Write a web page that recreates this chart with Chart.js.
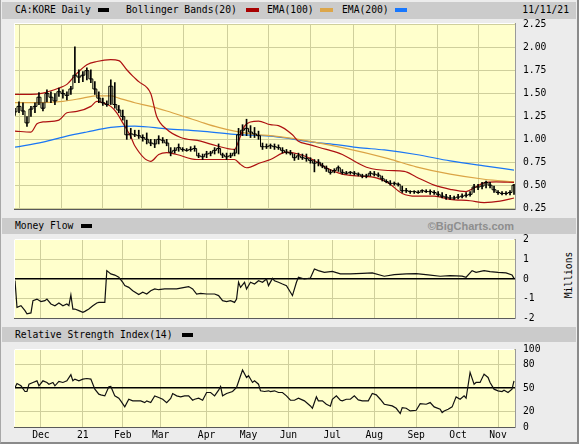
<!DOCTYPE html>
<html>
<head>
<meta charset="utf-8">
<script src="https://cdn.jsdelivr.net/npm/chart.js@4.4.1/dist/chart.umd.min.js"></script>
<style>
  body { margin: 0; background: #fff; }
  #page {
    position: relative; width: 579px; height: 444px; box-sizing: border-box;
    background: #ececec; overflow: hidden;
    border-left: 1px solid #a8a8a8; border-right: 2px solid #8a8a8a; border-bottom: 2px solid #8a8a8a;
    font-family: "DejaVu Sans Mono", monospace; font-size: 9.7px; color: #000;
  }
  .bar { position: absolute; left: 1px; width: 574px; background: #cbcbcb; }
  .t { position: absolute; white-space: pre; line-height: 10px; }
  .sw { position: absolute; height: 4px; }
  canvas { position: absolute; }
  #brand { font-family: "Liberation Sans", Arial, sans-serif; font-weight: bold; font-size: 11px; color: #8e8e8e; }
  #millions { left: 544px; top: 270px; width: 47px; text-align: center; transform: rotate(-90deg); }
</style>
</head>
<body>
<div id="page">
  <div class="bar" style="top:2px;height:17px"></div>
  <span class="t" style="left:14px;top:5px">CA:KORE Daily</span>
  <div class="sw" style="left:97px;top:8px;width:11px;background:#000"></div>
  <span class="t" style="left:125px;top:5px">Bollinger Bands(20)</span>
  <div class="sw" style="left:245px;top:8px;width:13px;background:#a80000"></div>
  <span class="t" style="left:266px;top:5px">EMA(100)</span>
  <div class="sw" style="left:319px;top:8px;width:13px;background:#dca64a"></div>
  <span class="t" style="left:341px;top:5px">EMA(200)</span>
  <div class="sw" style="left:394px;top:8px;width:12px;background:#1777ff"></div>
  <span class="t" style="right:8px;top:5px">11/11/21</span>

  <div class="bar" style="top:218px;height:16px"></div>
  <span class="t" style="left:14px;top:221px">Money Flow</span>
  <div class="sw" style="left:80px;top:224px;width:11px;background:#000"></div>
  <span class="t" id="brand" style="right:63px;top:220px;line-height:12px">©BigCharts.com</span>
  <span class="t" id="millions">Millions</span>

  <div class="bar" style="top:327px;height:15px"></div>
  <span class="t" style="left:14px;top:330px">Relative Strength Index(14)</span>
  <div class="sw" style="left:181px;top:333px;width:11px;background:#000"></div>

  <canvas id="priceChart" width="551" height="218" style="left:13px;top:7px"></canvas>
  <canvas id="flowChart" width="551" height="111" style="left:13px;top:223px"></canvas>
  <canvas id="rsiChart" width="551" height="110" style="left:13px;top:333px"></canvas>
</div>

<script>
"use strict";

// x axis is the trading-day index, 12 Nov 2020 = 0 ... 11 Nov 2021 = 250
const monthDays = [13, 34, 54, 73, 96, 117, 137, 159, 180, 201, 222, 242];
const monthLabels = ["Dec", "21", "Feb", "Mar", "Apr", "May", "Jun", "Jul", "Aug", "Sep", "Oct", "Nov"];

// price bars, one every second trading day
const priceHigh = [
  1.34, 1.41, 1.40, 1.25, 1.36, 1.40, 1.51, 1.40, 1.54, 1.52,
  1.50, 1.56, 1.54, 1.52, 1.58, 2.01, 1.76, 1.74, 1.78, 1.76,
  1.63, 1.52, 1.45, 1.42, 1.65, 1.62, 1.37, 1.32, 1.21, 1.12,
  1.10, 1.10, 1.05, 1.07, 1.00, 1.00, 1.04, 1.02, 1.00, 0.91,
  0.91, 0.95, 0.91, 0.90, 0.92, 0.93, 0.85, 0.84, 0.87, 0.87,
  0.91, 0.95, 0.85, 0.85, 0.85, 0.89, 1.12, 1.16, 1.22, 1.15,
  1.13, 1.09, 0.96, 0.95, 0.95, 0.95, 0.94, 0.91, 0.89, 0.88,
  0.84, 0.85, 0.84, 0.84, 0.80, 0.78, 0.78, 0.74, 0.71, 0.67,
  0.68, 0.71, 0.67, 0.65, 0.65, 0.65, 0.635, 0.62, 0.62, 0.65,
  0.65, 0.635, 0.60, 0.56, 0.55, 0.535, 0.525, 0.49, 0.465, 0.44,
  0.44, 0.44, 0.45, 0.45, 0.45, 0.44, 0.43, 0.42, 0.40, 0.39,
  0.38, 0.40, 0.405, 0.42, 0.43, 0.51, 0.51, 0.53, 0.545, 0.53,
  0.49, 0.44, 0.43, 0.43, 0.44, 0.51,
];
const priceLow = [
  1.26, 1.29, 1.27, 1.14, 1.25, 1.29, 1.38, 1.31, 1.41, 1.40,
  1.38, 1.47, 1.45, 1.43, 1.49, 1.62, 1.62, 1.63, 1.65, 1.62,
  1.49, 1.40, 1.37, 1.36, 1.38, 1.34, 1.29, 1.21, 1.00, 1.01,
  1.03, 1.01, 0.98, 0.95, 0.93, 0.91, 0.95, 0.96, 0.93, 0.82,
  0.85, 0.87, 0.87, 0.87, 0.87, 0.87, 0.80, 0.78, 0.80, 0.82,
  0.84, 0.85, 0.80, 0.78, 0.80, 0.82, 0.84, 1.04, 1.04, 1.02,
  1.02, 1.00, 0.89, 0.90, 0.90, 0.89, 0.89, 0.85, 0.84, 0.83,
  0.77, 0.78, 0.78, 0.76, 0.74, 0.645, 0.71, 0.69, 0.65, 0.62,
  0.635, 0.65, 0.62, 0.62, 0.62, 0.61, 0.60, 0.58, 0.58, 0.60,
  0.60, 0.59, 0.545, 0.526, 0.50, 0.50, 0.49, 0.42, 0.42, 0.41,
  0.41, 0.41, 0.42, 0.42, 0.40, 0.40, 0.38, 0.36, 0.345, 0.345,
  0.345, 0.35, 0.36, 0.37, 0.38, 0.42, 0.45, 0.46, 0.47, 0.47,
  0.42, 0.40, 0.395, 0.395, 0.395, 0.40,
];
const priceClose = [
  1.30, 1.36, 1.31, 1.18, 1.33, 1.36, 1.46, 1.34, 1.50, 1.46,
  1.42, 1.52, 1.50, 1.48, 1.55, 1.70, 1.68, 1.70, 1.75, 1.66,
  1.55, 1.45, 1.40, 1.38, 1.58, 1.38, 1.32, 1.25, 1.05, 1.06,
  1.05, 1.04, 1.02, 1.00, 0.96, 0.95, 1.00, 0.99, 0.96, 0.86,
  0.88, 0.91, 0.89, 0.88, 0.89, 0.90, 0.82, 0.81, 0.84, 0.85,
  0.88, 0.90, 0.83, 0.81, 0.82, 0.85, 1.05, 1.10, 1.12, 1.08,
  1.06, 1.04, 0.92, 0.92, 0.93, 0.92, 0.91, 0.88, 0.86, 0.85,
  0.80, 0.82, 0.80, 0.79, 0.77, 0.74, 0.75, 0.71, 0.68, 0.64,
  0.66, 0.69, 0.64, 0.63, 0.64, 0.63, 0.62, 0.60, 0.60, 0.63,
  0.62, 0.61, 0.57, 0.54, 0.52, 0.52, 0.51, 0.44, 0.44, 0.43,
  0.43, 0.42, 0.44, 0.43, 0.43, 0.42, 0.40, 0.38, 0.37, 0.36,
  0.36, 0.37, 0.38, 0.39, 0.40, 0.48, 0.48, 0.49, 0.53, 0.50,
  0.45, 0.42, 0.41, 0.41, 0.42, 0.50,
];

// bollinger bands (20)
const upperDays = [0, 8, 14, 22, 26, 31, 36, 41, 48, 52, 56, 59, 62, 68, 71, 76, 83, 93, 101, 110,
  112, 115, 118, 122, 128, 132, 139, 142, 147, 156, 164, 171, 177, 187, 195, 201, 210, 218, 226, 230,
  235, 241, 250];
const upperBand = [1.49, 1.49, 1.505, 1.56, 1.60, 1.72, 1.815, 1.85, 1.87, 1.86, 1.76, 1.69, 1.63, 1.50, 1.25, 1.11, 1.02, 0.98, 0.93, 0.89,
  0.98, 1.145, 1.19, 1.20, 1.16, 1.15, 1.05, 0.98, 0.945, 0.89, 0.835, 0.75, 0.69, 0.66, 0.65, 0.59, 0.50, 0.455, 0.43, 0.47,
  0.525, 0.535, 0.53];
const lowerDays = [0, 8, 11, 14, 22, 26, 31, 38, 41, 44, 48, 51, 54, 58, 60, 68, 72, 76, 81, 91,
  100, 110, 113, 116, 123, 128, 136, 142, 149, 156, 164, 172, 181, 187, 194, 201, 210, 218, 228, 235,
  243, 250];
const lowerBand = [1.09, 1.08, 1.17, 1.19, 1.21, 1.29, 1.305, 1.36, 1.415, 1.40, 1.36, 1.29, 1.18, 1.03, 0.93, 0.76, 0.835, 0.855, 0.835, 0.78,
  0.78, 0.78, 0.727, 0.69, 0.745, 0.78, 0.86, 0.84, 0.78, 0.69, 0.62, 0.60, 0.58, 0.525, 0.41, 0.38, 0.38, 0.345, 0.33, 0.31,
  0.325, 0.36];

// moving averages
const ema100Days = [0, 12, 24, 34, 41, 48, 52, 60, 68, 76, 86, 93, 102, 110, 120, 128, 136, 142, 164, 187, 201, 218, 235, 250];
const ema100 = [1.40, 1.40, 1.415, 1.45, 1.475, 1.475, 1.45, 1.40, 1.36, 1.31, 1.24, 1.19, 1.13, 1.09, 1.055, 1.04, 1.02, 1.00, 0.91, 0.79, 0.70, 0.62, 0.565, 0.535];
const ema200Days = [0, 14, 25, 36, 48, 60, 76, 93, 110, 128, 137, 149, 162, 172, 185, 201, 218, 235, 250];
const ema200 = [0.915, 0.97, 1.03, 1.08, 1.13, 1.145, 1.115, 1.09, 1.055, 1.035, 1.01, 0.97, 0.94, 0.91, 0.885, 0.835, 0.765, 0.71, 0.665];

// money flow, millions
const flowDays = [0, 1, 3, 5, 6, 8, 9, 11, 13, 15, 16, 18, 20, 22, 24, 26, 27, 28, 29, 30,
  32, 34, 35, 37, 39, 41, 42, 45, 46, 48, 50, 52, 54, 55, 57, 59, 62, 64, 66, 68,
  70, 72, 75, 78, 81, 85, 87, 89, 91, 93, 96, 100, 102, 104, 106, 108, 110, 111, 112, 113,
  115, 116, 118, 120, 122, 124, 126, 127, 129, 130, 132, 134, 136, 138, 139, 141, 142, 145, 148, 150,
  152, 155, 159, 163, 168, 174, 179, 185, 190, 196, 201, 207, 213, 218, 224, 226, 229, 231, 235, 238,
  242, 246, 249, 250];
const moneyFlow = [-0.08, -1.45, -1.37, -1.62, -1.79, -1.74, -1.11, -1.03, -1.16, -1.11, -1.03, -1.28, -1.37, -1.23, -1.37, -1.28, -1.37, -0.82, -1.54, -1.54,
  -1.62, -1.71, -1.66, -1.54, -1.37, -1.23, -1.2, -1.2, 0.43, 0.26, 0.2, 0.09, -0.17, -0.34, -0.43, -0.6, -0.8, -0.68, -0.77, -0.6,
  -0.51, -0.55, -0.51, -0.51, -0.51, -0.43, -0.39, -0.51, -0.77, -0.74, -0.77, -0.77, -0.85, -1.11, -1.16, -1.11, -1.2, -1.03, -0.17, -0.43,
  -0.17, -0.51, -0.17, -0.26, -0.09, -0.17, 0, -0.34, 0.03, -0.09, -0.17, -0.26, -0.34, -0.68, -0.85, -0.17, 0.09, 0, 0.05, 0.51,
  0.43, 0.34, 0.39, 0.26, 0.26, 0.29, 0.31, 0.14, 0.22, 0.26, 0.27, 0.21, 0.14, 0.17, 0.15, 0.09, 0.43, 0.34, 0.43, 0.38,
  0.34, 0.31, 0.21, 0.03];

// relative strength index (14)
const rsiDays = [0, 1, 3, 5, 6, 7, 9, 11, 12, 14, 16, 17, 19, 20, 22, 24, 26, 28, 29, 30,
  32, 34, 36, 38, 40, 42, 43, 45, 47, 48, 50, 52, 53, 55, 57, 59, 61, 63, 65, 66,
  68, 70, 72, 74, 76, 78, 79, 81, 83, 85, 87, 89, 90, 92, 94, 96, 98, 100, 102, 103,
  104, 106, 109, 111, 113, 114, 116, 117, 119, 120, 122, 123, 125, 127, 128, 130, 132, 134, 136, 138,
  140, 142, 145, 148, 149, 151, 152, 154, 156, 158, 159, 161, 163, 164, 166, 168, 170, 172, 174, 177,
  179, 181, 183, 185, 189, 191, 193, 194, 196, 198, 201, 203, 206, 208, 210, 213, 214, 215, 217, 219,
  221, 223, 225, 226, 228, 230, 231, 233, 235, 237, 238, 240, 242, 244, 245, 247, 249, 250];
const rsi = [50.6, 55.8, 52.8, 45.5, 45.5, 54.9, 57.1, 59.2, 52.8, 59.2, 57.1, 54.9, 57.1, 52.8, 58.4, 57.1, 59.2, 67, 59.2, 61.4,
  59.2, 61.4, 62.2, 61.4, 48.5, 42.1, 41.2, 39.9, 51.5, 51.9, 39.9, 36.9, 33.5, 25.8, 35.6, 33.5, 33.5, 33.5, 31.3, 33.5,
  31.3, 39.9, 37.8, 35.6, 31.3, 36.5, 42.9, 39.9, 38.6, 39.9, 39.9, 34.3, 35.6, 36.9, 34.3, 44.2, 44.2, 39.9, 47.2, 51.9,
  39.9, 42.9, 45.5, 50.6, 65.7, 73, 63.5, 65.7, 57.1, 59.2, 54.9, 46.4, 45.5, 46.4, 45.5, 46.4, 44.2, 44.2, 39.9, 34.3,
  34.3, 36.9, 33.5, 27, 24, 38.6, 33.5, 33.5, 29.2, 26.6, 35.6, 39.9, 34.3, 33.5, 35.6, 35.6, 39.9, 34.8, 33.5, 33.5,
  42.9, 41.2, 35.6, 29.2, 27, 24, 17.2, 24.9, 24, 20.6, 21.5, 30, 29.2, 31.3, 25.8, 22.7, 18.5, 20.6, 22.7, 25.8,
  38.6, 35.6, 39.9, 36.9, 70, 54.9, 57.1, 57.1, 67.8, 63.5, 57.1, 48.5, 46.4, 45.5, 47.2, 44.2, 48.5, 59.2];

const priceTicks = [0.25, 0.5, 0.75, 1.0, 1.25, 1.5, 1.75, 2.0, 2.25];
const flowTicks = [-2, -1, 0, 1, 2];
const rsiTicks = [0, 20, 50, 80, 100];

const gridColor = "#cfcf9c";
const paperColor = "#ffffcc";

Chart.defaults.font.family = "'DejaVu Sans Mono', monospace";
Chart.defaults.font.size = 9.7;
Chart.defaults.color = "#000";

const plotPaper = {
  id: "plotPaper",
  beforeDraw(chart) {
    const { ctx, chartArea: a } = chart;
    ctx.save();
    ctx.fillStyle = paperColor;
    ctx.fillRect(a.left, a.top, a.width, a.height);
    ctx.restore();
  },
  afterDraw(chart) {
    // light bevel on the top and left edges
    const { ctx, chartArea: a } = chart;
    ctx.save();
    ctx.strokeStyle = "#ffffff";
    ctx.lineWidth = 1;
    ctx.beginPath();
    ctx.moveTo(a.left + 0.5, a.bottom - 1);
    ctx.lineTo(a.left + 0.5, a.top + 0.5);
    ctx.lineTo(a.right - 1, a.top + 0.5);
    ctx.stroke();
    ctx.restore();
  },
};

function xScale(showLabels) {
  return {
    type: "linear",
    min: -0.5,
    max: 250.5,
    offset: false,
    afterBuildTicks: (s) => {
      s.ticks = monthDays.map((v) => ({ value: v }));
    },
    afterFit: (s) => {
      s.height = showLabels ? 16 : 0;
    },
    grid: { color: gridColor, drawTicks: false },
    border: { color: "#5a5a5a" },
    ticks: {
      display: showLabels,
      padding: 3,
      autoSkip: false,
      maxRotation: 0,
      callback: (v, i) => monthLabels[i],
    },
  };
}

function yScale(min, max, ticks, fmt, baseline) {
  return {
    position: "right",
    min: min,
    max: max,
    afterBuildTicks: (s) => {
      s.ticks = ticks.map((v) => ({ value: v }));
    },
    afterFit: (s) => {
      s.width = 50;
    },
    grid: {
      drawTicks: false,
      color: (c) => (c.tick && c.tick.value === baseline ? "#000" : gridColor),
      lineWidth: (c) => (c.tick && c.tick.value === baseline ? 1.4 : 1),
    },
    border: { color: "#9a9a9a" },
    ticks: { padding: 8, callback: fmt },
  };
}

function lineSet(days, values, color, smooth) {
  return {
    type: "line",
    data: days.map((d, i) => ({ x: d, y: values[i] })),
    borderColor: color,
    borderWidth: 1.2,
    pointRadius: 0,
    cubicInterpolationMode: smooth ? "monotone" : "default",
    tension: 0,
  };
}

// the tick labels need about 14px above and below the plot
function baseOptions(scales, bottomPad) {
  return {
    responsive: false,
    animation: false,
    events: [],
    layout: { padding: { top: 16, bottom: bottomPad, left: 0, right: 0 } },
    plugins: { legend: { display: false }, tooltip: { enabled: false } },
    scales: scales,
  };
}

new Chart(document.getElementById("priceChart"), {
  type: "line",
  data: {
    datasets: [
      {
        type: "line",
        data: priceClose.map((v, i) => ({ x: i * 2, y: v })),
        borderColor: "#000",
        borderWidth: 1,
        pointRadius: 0,
        stepped: "middle",
      },
      {
        type: "bar",
        data: priceHigh.map((v, i) => ({ x: i * 2, y: [priceLow[i], v] })),
        backgroundColor: "#000",
        barThickness: 1,
      },
      lineSet(upperDays, upperBand, "#ad1111", true),
      lineSet(lowerDays, lowerBand, "#ad1111", true),
      lineSet(ema100Days, ema100, "#dba445", true),
      lineSet(ema200Days, ema200, "#1a76f5", true),
    ],
  },
  options: baseOptions({
    x: xScale(false),
    y: yScale(0.24, 2.27, priceTicks, (v) => v.toFixed(2), null),
  }, 16),
  plugins: [plotPaper],
});

new Chart(document.getElementById("flowChart"), {
  type: "line",
  data: {
    datasets: [lineSet(flowDays, moneyFlow, "#111", false)],
  },
  options: baseOptions({
    x: xScale(false),
    y: yScale(-2, 2.05, flowTicks, (v) => String(v), 0),
  }, 16),
  plugins: [plotPaper],
});

new Chart(document.getElementById("rsiChart"), {
  type: "line",
  data: {
    datasets: [lineSet(rsiDays, rsi, "#111", false)],
  },
  options: baseOptions({
    x: xScale(true),
    y: yScale(0, 100, rsiTicks, (v) => String(v), 50),
  }, 0),
  plugins: [plotPaper],
});
</script>
</body>
</html>
